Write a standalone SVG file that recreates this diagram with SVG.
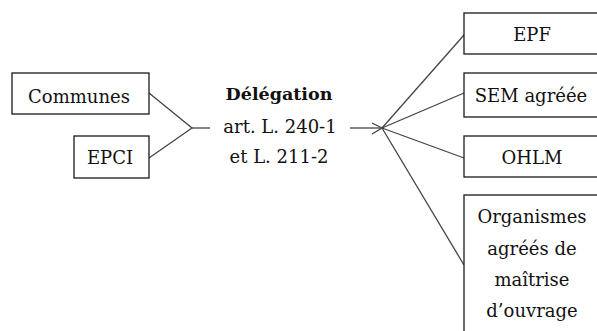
<svg xmlns="http://www.w3.org/2000/svg" width="597" height="331" viewBox="0 0 597 331">
  <style>
    .box { fill: #ffffff; stroke: #1a1a1a; stroke-width: 1.3; }
    .lbl { font-family: "DejaVu Serif", "Liberation Serif", serif; font-size: 18px; fill: #111111; text-anchor: middle; }
    .bold { font-weight: bold; font-size: 17.5px; }
    .wire { fill: none; stroke: #444444; stroke-width: 1.3; }
  </style>
  <rect width="597" height="331" fill="#ffffff"/>

  <!-- connectors -->
  <g id="connectors">
    <!-- left side: Communes and EPCI merge -->
    <polyline class="wire" points="149,93 192,128 149,158"/>
    <line class="wire" x1="192" y1="128" x2="210" y2="128"/>
    <!-- arrow into the fan-out point -->
    <line class="wire" x1="350" y1="128" x2="382" y2="128"/>
    <polyline class="wire" points="372,123 382,128 372,134"/>
    <!-- fan-out to delegates -->
    <line class="wire" x1="382" y1="128" x2="464" y2="35"/>
    <line class="wire" x1="382" y1="128" x2="464" y2="93"/>
    <line class="wire" x1="382" y1="128" x2="464" y2="158"/>
    <line class="wire" x1="382" y1="128" x2="464" y2="265"/>
  </g>

  <g id="communes">
    <rect class="box" x="12" y="73" width="137" height="41"/>
    <text class="lbl" x="79" y="103">Communes</text>
  </g>
  <g id="epci">
    <rect class="box" x="74" y="136" width="75" height="42"/>
    <text class="lbl" x="110" y="164">EPCI</text>
  </g>

  <g id="delegation">
    <text class="lbl bold" x="279" y="100">Délégation</text>
    <text class="lbl" x="280" y="133">art. L. 240-1</text>
    <text class="lbl" x="279" y="163">et L. 211-2</text>
  </g>

  <g id="epf">
    <rect class="box" x="464" y="13" width="136" height="41"/>
    <text class="lbl" x="532" y="41">EPF</text>
  </g>
  <g id="sem">
    <rect class="box" x="464" y="73" width="136" height="44"/>
    <text class="lbl" x="531" y="102">SEM agréée</text>
  </g>
  <g id="ohlm">
    <rect class="box" x="464" y="136" width="136" height="41"/>
    <text class="lbl" x="532" y="164">OHLM</text>
  </g>
  <g id="organismes">
    <rect class="box" x="464" y="195" width="136" height="145"/>
    <text class="lbl" x="532" y="223">Organismes</text>
    <text class="lbl" x="532" y="255">agréés de</text>
    <text class="lbl" x="532" y="286">maîtrise</text>
    <text class="lbl" x="532" y="317">d’ouvrage</text>
  </g>
</svg>
